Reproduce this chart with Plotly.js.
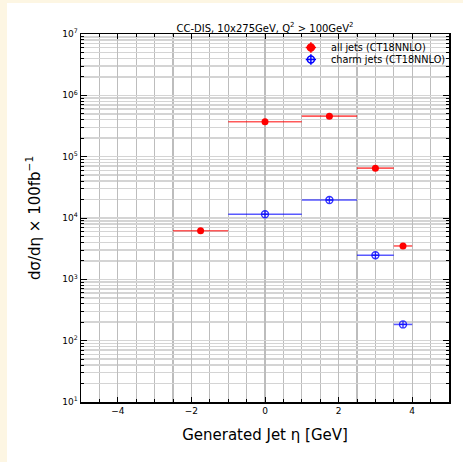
<!DOCTYPE html>
<html>
<head>
<meta charset="utf-8">
<script src="https://cdn.plot.ly/plotly-3.0.1.min.js"></script>
<style>
  html, body { margin: 0; padding: 0; background: #fdf6e3; width: 463px; height: 462px; overflow: hidden; }
  #chart { position: absolute; left: 7px; top: 3px; width: 456px; height: 459px; background: #ffffff; }
</style>
</head>
<body>
<div id="chart"></div>
<script>
// Jet eta bins (centres and half-widths)
const binCentres = [-1.75, 0, 1.75, 3, 3.75];
const binHalfWidths = [0.75, 1, 0.75, 0.5, 0.25];

// Cross sections, dsigma/deta x 100 fb^-1
const allJets = [6200, 370000, 458000, 65000, 3500];
const charmCentres = [0, 1.75, 3, 3.75];
const charmHalfWidths = [1, 0.75, 0.5, 0.25];
const charmJets = [11500, 19600, 2470, 184];

// Decade tick labels
const yTickVals = [1e1, 1e2, 1e3, 1e4, 1e5, 1e6, 1e7];
const yTickText = ['10<sup>1</sup>', '10<sup>2</sup>', '10<sup>3</sup>', '10<sup>4</sup>', '10<sup>5</sup>', '10<sup>6</sup>', '10<sup>7</sup>'];

const seriesNames = ['all jets (CT18NNLO)', 'charm jets (CT18NNLO)'];
const seriesColors = ['red', 'blue'];

const font = 'DejaVu Sans, sans-serif';

const traces = [
  {
    x: binCentres, y: allJets, type: 'scatter', mode: 'markers',
    name: seriesNames[0],
    marker: { color: 'red', size: 7, symbol: 'circle' },
    error_x: { type: 'data', array: binHalfWidths, symmetric: true, width: 0, thickness: 1.6, color: 'rgba(255,0,0,0.65)' }
  },
  {
    x: charmCentres, y: charmJets, type: 'scatter', mode: 'markers',
    name: seriesNames[1],
    marker: { color: 'rgba(0,0,255,0.8)', size: 7, symbol: 'circle-cross-open', line: { width: 1.4 } },
    error_x: { type: 'data', array: charmHalfWidths, symmetric: true, width: 0, thickness: 1.6, color: 'rgba(0,0,255,0.65)' }
  }
];

// Compact legend drawn in paper coordinates (marker with error-bar cross + label)
const legX = 0.6247, legTextX = 0.6735;
const legY = [0.9633, 0.9307];
const rx = 0.0095, ry = 0.0095, arm = 0.014;
const shapes = [];
const annotations = [];
seriesNames.forEach((name, i) => {
  const c = seriesColors[i];
  const y = legY[i];
  shapes.push({ type: 'line', xref: 'paper', yref: 'paper', x0: legX - arm, x1: legX + arm, y0: y, y1: y, line: { color: c, width: 1.5 } });
  shapes.push({ type: 'line', xref: 'paper', yref: 'paper', x0: legX, x1: legX, y0: y - arm, y1: y + arm, line: { color: c, width: 1.5 } });
  shapes.push({
    type: 'circle', xref: 'paper', yref: 'paper',
    x0: legX - rx, x1: legX + rx, y0: y - ry, y1: y + ry,
    fillcolor: i === 0 ? c : 'rgba(0,0,0,0)', line: { color: c, width: 1.5 }
  });
  annotations.push({
    xref: 'paper', yref: 'paper', x: legTextX, y: y, xanchor: 'left', yanchor: 'middle',
    text: name, showarrow: false, font: { family: font, size: 9.7, color: '#000' }
  });
});

const layout = {
  width: 456, height: 459,
  margin: { l: 73.6, r: 13.6, t: 30.5, b: 60.3 },
  paper_bgcolor: '#ffffff', plot_bgcolor: '#ffffff',
  font: { family: font, color: '#000', size: 9 },
  showlegend: false,
  shapes: shapes,
  annotations: annotations,
  title: {
    text: 'CC-DIS, 10x275GeV, Q<sup>2</sup> > 100GeV<sup>2</sup>',
    font: { family: font, size: 10, color: '#000' },
    x: 0.5, xref: 'paper', xanchor: 'center',
    y: 1, yref: 'paper', yanchor: 'bottom', pad: { b: 2.5 }
  },
  xaxis: {
    range: [-5, 5], dtick: 2, tick0: 0,
    ticks: 'inside', ticklen: 5, tickwidth: 1, tickcolor: '#000',
    showline: true, linecolor: '#000', linewidth: 1.5, mirror: 'ticks',
    showgrid: true, gridcolor: '#bdbdbd', gridwidth: 1.1,
    zeroline: false,
    tickfont: { family: font, size: 9 },
    minor: { dtick: 0.5, ticks: 'inside', ticklen: 3, tickcolor: '#000', showgrid: true, gridcolor: '#bdbdbd', gridwidth: 1.1 },
    title: { text: 'Generated Jet η [GeV]', font: { family: font, size: 15, color: '#000' }, standoff: 14 }
  },
  yaxis: {
    type: 'log', range: [1, 7],
    tickmode: 'array', tickvals: yTickVals, ticktext: yTickText,
    ticks: 'inside', ticklen: 6, tickwidth: 1, tickcolor: '#000',
    showline: true, linecolor: '#000', linewidth: 1.5, mirror: 'ticks',
    showgrid: true, gridcolor: '#d4d4d4', gridwidth: 1.5,
    zeroline: false,
    tickfont: { family: font, size: 9 },
    minor: { dtick: 'D1', ticks: 'inside', ticklen: 3, tickcolor: '#000', showgrid: true, gridcolor: '#d4d4d4', gridwidth: 1.5 },
    title: { text: 'dσ/dη × 100fb<sup>−1</sup>', font: { family: font, size: 15, color: '#000' }, standoff: 18 }
  }
};

Plotly.newPlot('chart', traces, layout, { staticPlot: true, displayModeBar: false });
</script>
</body>
</html>
